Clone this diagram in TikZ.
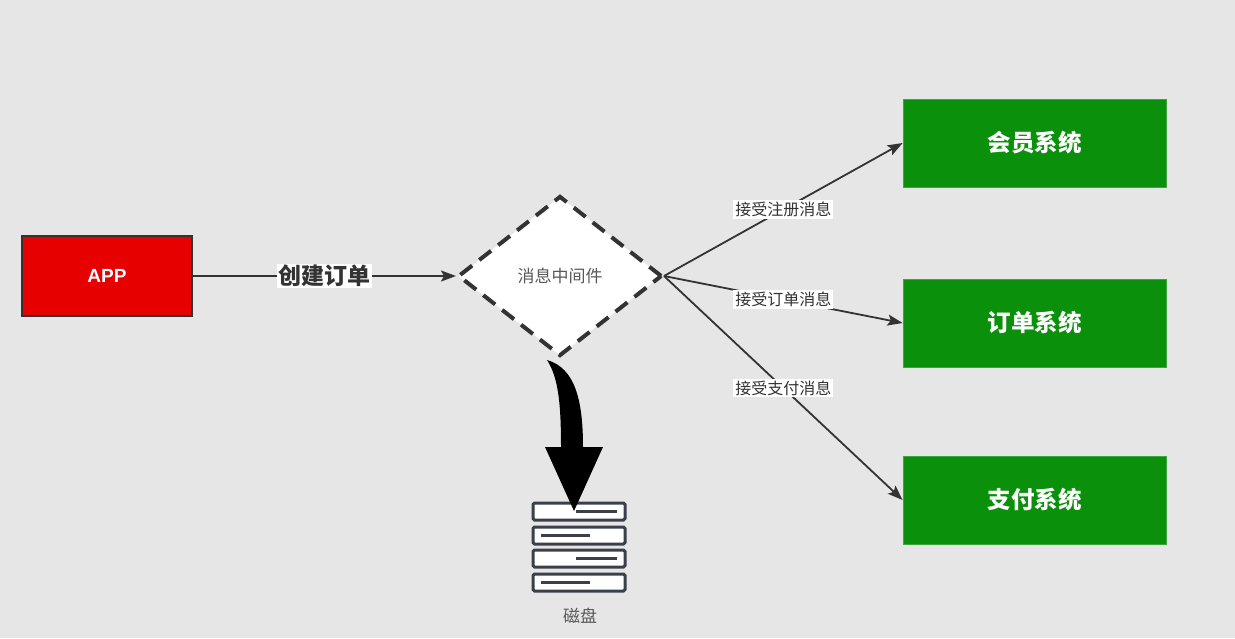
\documentclass[tikz,border=0pt]{standalone}
\usepackage{fontspec}
\newfontfamily\cjk{Noto Sans CJK SC}
\setsansfont{Liberation Sans}
\usetikzlibrary{shapes.geometric,arrows.meta,positioning}
\definecolor{bggray}{HTML}{E6E6E6}
\definecolor{appred}{HTML}{E60000}
\definecolor{sysgreen}{HTML}{0A900A}
\definecolor{linegray}{HTML}{333333}
\definecolor{diskgray}{HTML}{3A3F4A}

\begin{document}
\begin{tikzpicture}[x=1pt, y=-1pt, >={Stealth[length=15pt,width=11pt,inset=3pt]},
  appbox/.style={draw=linegray, line width=1.5pt, fill=appred, text=white, minimum width=170pt, minimum height=80pt, font=\sffamily\bfseries\fontsize{19}{21}\selectfont},
  sysbox/.style={draw=sysgreen!80!white, line width=0.8pt, fill=sysgreen, text=white, minimum width=263pt, minimum height=88pt, font=\cjk\bfseries\fontsize{23.5}{27}\selectfont},
  mqbox/.style={diamond, draw=linegray, fill=white, line width=4pt, dash pattern=on 15pt off 9pt, minimum width=204pt, minimum height=160pt, inner sep=0pt, text=black!65, font=\cjk\fontsize{17}{20}\selectfont},
  conn/.style={draw=linegray, line width=1.8pt, ->},
  lbl/.style={fill=white, inner sep=2pt, text=linegray, font=\cjk\fontsize{16}{19}\selectfont},
  diskbar/.style={draw=diskgray, line width=3pt, fill=white, rounded corners=1.5pt},
  diskline/.style={draw=diskgray, line width=3pt},
]
  % background and margins
  \fill[bggray] (0,0) rectangle (1235,638);

  \node[appbox] (app) at (107,276) {APP};
  \node[mqbox, right of=app, node distance=453pt] (mq) {消息中间件};
  \node[sysbox] (member) at (1034.5,143) {会员系统};
  \node[sysbox, below of=member, node distance=180pt] (order) {订单系统};
  \node[sysbox, below of=order, node distance=177pt] (pay) {支付系统};

  \draw[conn] (app) -- node[lbl, font=\cjk\bfseries\fontsize{23}{26}\selectfont, inner sep=1.5pt] {创建订单} (mq);
  \draw[conn] (mq.east) -- node[lbl] {接受注册消息} (member.west);
  \draw[conn] (mq.east) -- node[lbl] {接受订单消息} (order.west);
  \draw[conn] (mq.east) -- node[lbl] {接受支付消息} (pay.west);

  % disk
  \coordinate (disk) at (579,503);
  \foreach \y/\a/\b in {503/576/617, 527/541/590, 550/576/617, 574/541/590} {
    \draw[diskbar] (533,\y) rectangle (625,\y+17);
    \draw[diskline] (\a,\y+8.5) -- (\b,\y+8.5);
  }
  \node[text=black!65, font=\cjk\fontsize{17}{20}\selectfont] (disklbl) at (580,616) {磁盘};

  % fat arrow down to the disk
  \fill[black] (547,360) .. controls (575,368) and (583,400) .. (583,447)
    -- (603,447) -- (574,511) -- (545,447) -- (561,447)
    .. controls (561,402) and (558,377) .. (547,360) -- cycle;
\end{tikzpicture}
\end{document}
